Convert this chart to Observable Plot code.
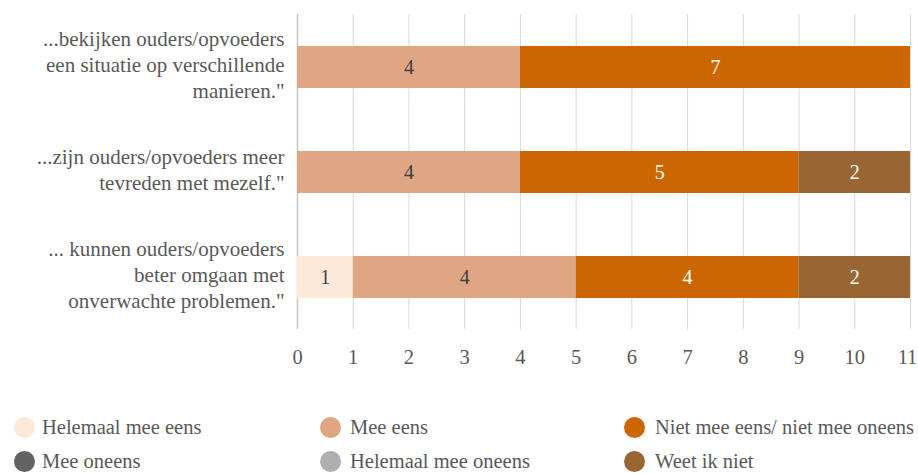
<!DOCTYPE html>
<html>
<head>
<meta charset="utf-8">
<script src="https://cdn.jsdelivr.net/npm/d3@7"></script>
<script src="https://cdn.jsdelivr.net/npm/@observablehq/plot@0.6"></script>
</head>
<body style="margin:0;padding:0;background:#fff;font-family:'Liberation Serif',serif">
<div id="wrap" style="width:918px;height:474px;position:relative;font-family:'Liberation Serif',serif"><div id="chart"></div><div id="legend" style="position:absolute;left:0;top:380px;width:918px;height:94px"></div></div>
<script>
// Categories (top to bottom)
const categories = [
  "...bekijken ouders/opvoeders\neen situatie op verschillende\nmanieren.\"",
  "...zijn ouders/opvoeders meer\ntevreden met mezelf.\"",
  "... kunnen ouders/opvoeders\nbeter omgaan met\nonverwachte problemen.\""
];
// Series names and colours
const seriesNames = ["Helemaal mee eens", "Mee eens", "Niet mee eens/ niet mee oneens", "Mee oneens", "Helemaal mee oneens", "Weet ik niet"];
const seriesColors = ["#fde9d9", "#dfa683", "#cc6600", "#636363", "#aeb0b0", "#996633"];
const labelColors = ["#404040", "#404040", "#ffffff", "#ffffff", "#404040", "#ffffff"];
// Values per series, in category order
const helemaalMeeEens = [0, 0, 1];
const meeEens = [4, 4, 4];
const nietMeeEensNietMeeOneens = [7, 5, 4];
const meeOneens = [0, 0, 0];
const helemaalMeeOneens = [0, 0, 0];
const weetIkNiet = [0, 2, 2];
// Axis ticks
const xTicks = [0, 1, 2, 3, 4, 5, 6, 7, 8, 9, 10, 11];

const FONT = "'Liberation Serif', serif";
const seriesValues = [helemaalMeeEens, meeEens, nietMeeEensNietMeeOneens, meeOneens, helemaalMeeOneens, weetIkNiet];
const rows = [];
seriesNames.forEach((s, si) => {
  categories.forEach((c, ci) => {
    rows.push({category: c, series: s, value: seriesValues[si][ci], labelColor: labelColors[si]});
  });
});
const nonZero = rows.filter(d => d.value > 0);
const lastTick = xTicks[xTicks.length - 1];

const plot = Plot.plot({
  width: 918,
  height: 380,
  marginTop: 14,
  marginBottom: 51,
  marginLeft: 297,
  marginRight: 8,
  style: "font-family: 'Liberation Serif', serif; font-size: 20px; color: #595959; background: #fff;",
  x: {domain: [0, 11], ticks: xTicks},
  y: {domain: categories, paddingInner: 0.6, paddingOuter: 0.3},
  color: {domain: seriesNames, range: seriesColors},
  marks: [
    Plot.gridX(xTicks, {stroke: "#d9d9d9", strokeOpacity: 1, strokeWidth: 1}),
    Plot.ruleX([0], {stroke: "#c6c6c6", strokeWidth: 1.5}),
    Plot.barX(nonZero, Plot.stackX({x: "value", y: "category", fill: "series", order: seriesNames})),
    Plot.text(nonZero, Plot.stackX({x: "value", y: "category", z: "series", text: d => String(d.value), fill: "labelColor", order: seriesNames, fontSize: 20, fontFamily: FONT})),
    Plot.axisX(xTicks.filter(t => t !== lastTick), {tickSize: 0, tickPadding: 20, label: null, fill: "#595959", fontSize: 20.5, fontFamily: FONT}),
    Plot.axisX([lastTick], {tickSize: 0, tickPadding: 20, label: null, fill: "#595959", fontSize: 20.5, fontFamily: FONT, dx: -3}),
    Plot.axisY({tickSize: 0, tickPadding: 13, label: null, fill: "#595959", fontSize: 21, fontFamily: FONT, lineHeight: 1.24, dy: -4})
  ]
});
document.getElementById("chart").appendChild(plot);

// Legend
const legend = document.getElementById("legend");
const colX = [14, 320, 624];
const gapX = [7, 9, 10];
const rowY = [47, 81];
seriesNames.forEach((s, i) => {
  const item = document.createElement("div");
  item.style.position = "absolute";
  item.style.display = "flex";
  item.style.alignItems = "center";
  item.style.whiteSpace = "nowrap";
  item.style.fontFamily = FONT;
  item.style.fontSize = "20.5px";
  item.style.color = "#595959";
  item.style.left = colX[i % 3] + "px";
  item.style.top = (rowY[Math.floor(i / 3)] - 12) + "px";
  item.style.height = "24px";
  const dot = document.createElement("span");
  dot.style.width = "21px";
  dot.style.height = "21px";
  dot.style.borderRadius = "50%";
  dot.style.flex = "none";
  dot.style.background = seriesColors[i];
  const txt = document.createElement("span");
  txt.textContent = s;
  txt.style.marginLeft = gapX[i % 3] + "px";
  item.appendChild(dot);
  item.appendChild(txt);
  legend.appendChild(item);
});
</script>
</body>
</html>
